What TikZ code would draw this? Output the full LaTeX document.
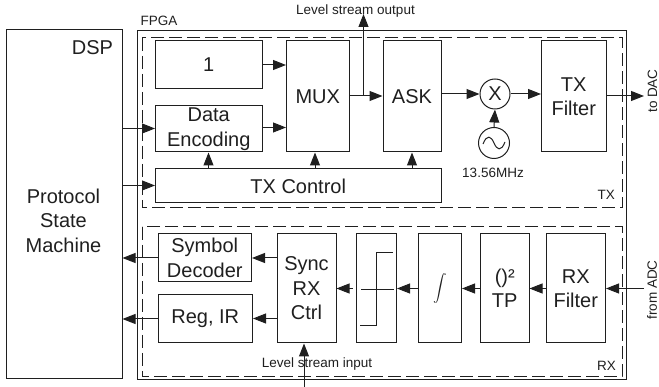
\documentclass[tikz,border=0pt]{standalone}
\usepackage{fontspec}
\setmainfont{Liberation Sans}
\usetikzlibrary{arrows.meta,calc}
\newcommand{\bigtxt}{\fontsize{20}{24.5}\selectfont}
\newcommand{\smalltxt}{\fontsize{13.5}{16}\selectfont}
\definecolor{ink}{gray}{0.12}
\tikzset{
  x=1pt,y=-1pt,
  every node/.style={text=ink},
  blk/.style n args={4}{draw=ink,line width=1pt,inner sep=0pt,align=center,font=\bigtxt,
     minimum width=#3-#1,minimum height=#4-#2,anchor=center,at={({(#1+#3)/2},{(#2+#4)/2})}},
  dashbox/.style={draw=ink,line width=1pt,dash pattern=on 13pt off 5pt},
  sig/.style={draw=ink,line width=1pt,-{Triangle[length=13pt,width=10pt]}},
  small/.style={font=\smalltxt,inner sep=0pt},
  osc/.style={draw=ink,line width=1pt,circle,inner sep=0pt,minimum size=31pt,font=\bigtxt},
}
\begin{document}
\begin{tikzpicture}
\useasboundingbox (0,0) rectangle (659,387);
% containers
\node[blk={6}{30}{122}{379}] (dsp) {};
\node[blk={137.5}{31}{626}{380}] (fpga) {};
\draw[dashbox] (142,38) rectangle (622,208);
\draw[dashbox] (142,227) rectangle (622,377);
\node[font=\bigtxt,inner sep=0pt] (dsplabel) at (92.5,48) {DSP};
\node[font=\bigtxt,align=center,inner sep=0pt] (psm) at (63.5,220.5) {Protocol\\State\\Machine};
\node[small] (fpgalabel) at (159,21) {FPGA};
\node[small,anchor=east] (txlabel) at (615,195) {TX};
\node[small,anchor=east] (rxlabel) at (616,366) {RX};
% TX blocks
\node[blk={155.5}{41}{262}{89}] (one) {1};
\node[blk={155.5}{106}{262}{152}] (enc) {Data\\Encoding};
\node[blk={286.5}{41}{349}{152}] (mux) {MUX};
\node[blk={155.5}{169}{441}{203}] (ctl) {TX Control};
\node[blk={383}{41}{441}{152}] (ask) {ASK};
\node[blk={541.5}{41}{606}{152}] (txf) {TX\\Filter};
\node[osc,minimum size=30pt] (mix) at (495,94) {X};
\node[osc] (lo) at (494,143) {};
\draw[draw=ink,line width=1pt] (483,144) .. controls (487,134) and (491,136) .. (494,143) .. controls (497,150) and (501,152) .. (505,142);
\node[small] (freq) at (493,173) {13.56MHz};
% RX blocks
\node[blk={158}{234}{251.5}{282}] (sym) {Symbol\\Decoder};
\node[blk={158}{295}{252.5}{343}] (reg) {Reg, IR};
\node[blk={277}{234}{336}{343}] (sync) {Sync\\RX\\Ctrl};
\node[blk={356.5}{234}{396.5}{343}] (thr) {};
\node[blk={418}{234}{461.5}{343}] (int) {\raisebox{3pt}{\scalebox{1.35}{$\displaystyle\int$}}};
\node[blk={480.5}{234}{529}{343}] (tp) {()²\\TP};
\node[blk={546}{234}{605.5}{343}] (rxf) {RX\\Filter};
% threshold characteristic
\draw[draw=ink,line width=1pt] (361,289.5) -- (394,289.5);
\draw[draw=ink,line width=1pt] (360,326) -- (376.5,326) -- (376.5,253) -- (393,253);
% free ends
\coordinate (lvlout) at (363.5,14);
\coordinate (lvltap) at (363.5,96);
\coordinate (dac) at (644,96);
\coordinate (adc) at (644,288.5);
\coordinate (lvlin) at (304,387);
% TX connectors
\draw[sig] (one.east |- 0,65) -- (mux.west |- 0,65);
\draw[sig] (enc.east |- 0,127.5) -- (mux.west |- 0,127.5);
\draw[sig] (dsp.east |- 0,128.5) -- (enc.west |- 0,128.5);
\draw[sig] (dsp.east |- 0,185.5) -- (ctl.west |- 0,185.5);
\draw[sig] (208.5,0 |- ctl.north) -- (208.5,0 |- enc.south);
\draw[sig] (315,0 |- ctl.north) -- (315,0 |- mux.south);
\draw[sig] (412,0 |- ctl.north) -- (412,0 |- ask.south);
\draw[sig] (mux.east |- lvltap) -- (ask.west |- lvltap);
\draw[sig] (lvltap) -- (lvlout);
\draw[sig] (ask.east |- mix) -- (mix.west);
\draw[sig] (mix.east) -- (txf.west |- mix);
\draw[sig] (lo.north) -- (mix.south);
\draw[sig] (txf.east |- dac) -- (dac);
% RX connectors
\draw[sig] (adc) -- (rxf.east |- adc);
\draw[sig] (rxf.west |- adc) -- (tp.east |- adc);
\draw[sig] (tp.west |- adc) -- (int.east |- adc);
\draw[sig] (int.west |- adc) -- (thr.east |- adc);
\draw[sig,shorten <=3.5pt] (thr.west |- adc) -- (sync.east |- adc);
\draw[sig] (sync.west |- 0,258) -- (sym.east |- 0,258);
\draw[sig] (sync.west |- 0,318.5) -- (reg.east |- 0,318.5);
\draw[sig] (sym.west |- 0,258) -- (dsp.east |- 0,258);
\draw[sig] (reg.west |- 0,319) -- (dsp.east |- 0,319);
\draw[sig] (lvlin) -- (sync.south -| lvlin);
% labels
\node[small] (lvloutlabel) at (355.5,11) {Level stream output};
\node[small] (lvlinlabel) at (317,364) {Level stream input};
\node[small,rotate=90] (daclabel) at (652.5,91) {to DAC};
\node[small,rotate=90] (adclabel) at (652,290) {from ADC};
\end{tikzpicture}
\end{document}
